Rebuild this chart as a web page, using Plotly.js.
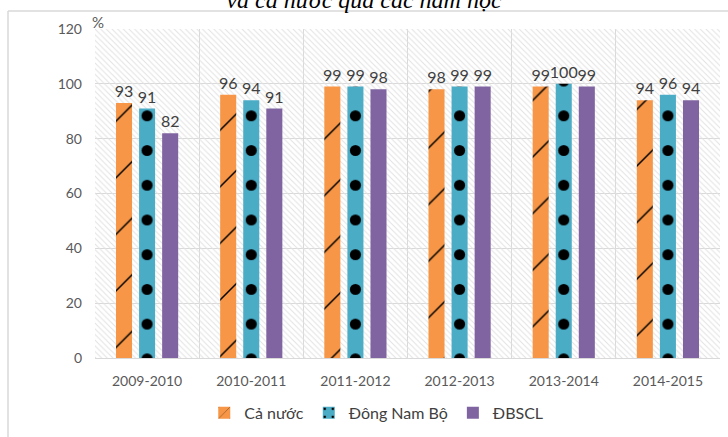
<!DOCTYPE html>
<html>
<head>
<meta charset="utf-8">
<script src="https://cdn.plot.ly/plotly-3.0.1.min.js"></script>
<style>html,body{margin:0;padding:0;background:#fff}#chart{width:728px;height:437px}</style>
</head>
<body>
<div id="chart"></div>
<script>
const categories = ["2009-2010", "2010-2011", "2011-2012", "2012-2013", "2013-2014", "2014-2015"];
const seriesNames = ["Cả nước", "Đông Nam Bộ", "ĐBSCL"];
const caNuoc = [93, 96, 99, 98, 99, 94];
const dongNamBo = [91, 94, 99, 99, 100, 96];
const dbscl = [82, 91, 98, 99, 99, 94];
const yTicks = [0, 20, 40, 60, 80, 100, 120];
const yMax = 120;

const font = "Lato, 'Open Sans', sans-serif";
const barW = 0.154;
const step = 0.2215;

const bg = {
  type: "bar", x: categories, y: categories.map(() => yMax),
  width: 1, offset: -0.5, showlegend: false, hoverinfo: "skip",
  marker: { color: "rgba(0,0,0,0)", line: { width: 0 },
    pattern: { shape: "\\", fgcolor: "#e2e2e2", bgcolor: "rgba(0,0,0,0)", size: 4, solidity: 0.25 } }
};

function series(name, vals, color, idx, pattern) {
  const m = { color: color, line: { width: 0 } };
  if (pattern) m.pattern = pattern;
  return {
    type: "bar", name: name, x: categories, y: vals,
    width: barW, offset: (idx - 1) * step - barW / 2,
    text: vals.map(String), textposition: "outside", constraintext: "none",
    textfont: { family: font, size: 16, color: "#404040" },
    cliponaxis: false,
    marker: m
  };
}

const tr1 = series(seriesNames[0], caNuoc, "#F79646", 0,
  { shape: "/", fgcolor: "#000000", bgcolor: "#F79646", size: 40, solidity: 0.037 });
const tr2 = series(seriesNames[1], dongNamBo, "#4BACC6", 1,
  { shape: ".", fgcolor: "#000000", bgcolor: "#4BACC6", size: 625 / 18, solidity: 0.08 });
const tr3 = series(seriesNames[2], dbscl, "#8064A2", 2, null);

const layout = {
  width: 728, height: 437,
  margin: { l: 95, r: 8, t: 29, b: 79, autoexpand: false },
  paper_bgcolor: "#ffffff", plot_bgcolor: "#ffffff",
  barmode: "overlay",
  font: { family: font, color: "#595959", size: 14 },
  title: { text: "<i>và cả nước qua các năm học</i>", font: { family: "'Liberation Serif', serif", size: 24, color: "#000" },
    x: 0.5, xref: "container", y: 1, yref: "container", yanchor: "middle", pad: { t: 0, b: 0 } },
  xaxis: { type: "category", tickson: "boundaries", showgrid: true, gridcolor: "#d9d9d9", gridwidth: 1,
    showline: true, linecolor: "#d9d9d9", ticks: "", ticklabelstandoff: 10, tickfont: { size: 14, color: "#595959" },
    range: [-0.5, 5.5], fixedrange: true },
  yaxis: { range: [0, yMax], tickvals: yTicks, ticktext: yTicks.map(String), showgrid: true, gridcolor: "#d9d9d9",
    zeroline: false, showline: false, ticks: "", ticklen: 0, ticklabelstandoff: 12,
    tickfont: { size: 14, color: "#595959" }, fixedrange: true },
  legend: { orientation: "h", x: 0.45, xanchor: "center", y: -0.167, yanchor: "middle",
    font: { size: 16, color: "#404040" }, traceorder: "normal" },
  shapes: [
    { type: "line", xref: "paper", yref: "paper", x0: -0.1392, x1: -0.1392, y0: -0.3, y1: (358 - 11) / 329,
      line: { color: "#d9d9d9", width: 1.5 } },
    { type: "line", xref: "paper", yref: "paper", x0: -0.1392, x1: 1.05, y0: (358 - 11) / 329, y1: (358 - 11) / 329,
      line: { color: "#d9d9d9", width: 1.5 } }
  ],
  annotations: [
    { text: "%", xref: "paper", yref: "paper", x: 0.005, y: (358 - 22) / 329, showarrow: false,
      font: { size: 15, color: "#595959" }, xanchor: "center", yanchor: "middle" }
  ]
};

Plotly.newPlot("chart", [bg, tr1, tr2, tr3], layout, { displayModeBar: false, staticPlot: true });
</script>
</body>
</html>
